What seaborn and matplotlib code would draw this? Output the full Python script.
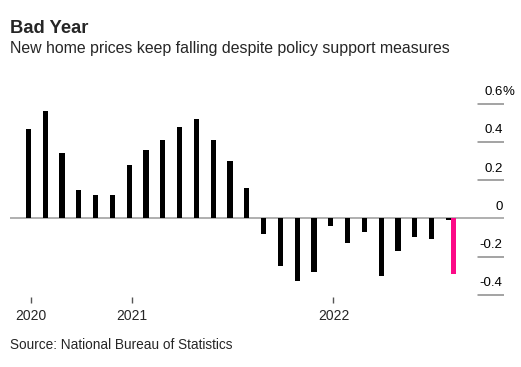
import numpy as np
import pandas as pd
import matplotlib
matplotlib.use("Agg")
import matplotlib.pyplot as plt
import seaborn as sns

# monthly change in new home prices, Jul 2020 - Aug 2022 (%)
months = pd.date_range("2020-07-01", "2022-08-01", freq="MS").strftime("%Y-%m").tolist()
past_values = [0.47, 0.56, 0.34, 0.15, 0.12, 0.12,
               0.28, 0.36, 0.41, 0.48, 0.52, 0.41, 0.30, 0.16, -0.08, -0.25, -0.33, -0.28,
               -0.04, -0.13, -0.07, -0.30, -0.17, -0.10, -0.11, -0.01]
latest_values = [np.nan] * 25 + [-0.29]
year_ticks = ["2020-07", "2021-01", "2022-01"]
year_labels = ["2020", "2021", "2022"]
y_ticks = [0.6, 0.4, 0.2, 0, -0.2, -0.4]
y_labels = ["0.6", "0.4", "0.2", "0", "-0.2", "-0.4"]

df = pd.DataFrame({
    "month": months * 2,
    "value": past_values + latest_values,
    "series": ["past"] * len(months) + ["latest"] * len(months),
})

sns.set_style("white")
plt.rcParams["font.family"] = ["Liberation Sans", "DejaVu Sans"]

fig = plt.figure(figsize=(5.21, 3.67), dpi=100)
W, H = 521, 367
ax = fig.add_axes([10 / W, 1 - 297 / H, 494 / W, (297 - 95) / H])

ax.axhline(0, color="#9a9a9a", lw=1.1, zorder=0)
sns.barplot(data=df, x="month", y="value", hue="series", order=months,
            hue_order=["past", "latest"], palette={"past": "black", "latest": "#fc0a87"},
            width=0.63, dodge=True, legend=False, ax=ax, saturation=1,
            linewidth=0, edgecolor="none", zorder=2)

ax.set_xlim(-1.25, 28.15)
ax.set_ylim(-(297 - 218.3) / 191, (218.3 - 95) / 191)

for s in ax.spines.values():
    s.set_visible(False)

# x ticks only for years
pos = [months.index(m) for m in year_ticks]
ax.set_xticks(pos)
ax.set_xticklabels(year_labels, fontsize=10)
ax.tick_params(axis="x", length=4, width=1, color="#555555", pad=5, direction="out", bottom=True)
ax.set_xlabel("")
ax.set_ylabel("")
ax.set_yticks([])

# right side value labels sitting on short rules
for v, lab in zip(y_ticks, y_labels):
    if v != 0:
        ax.axhline(v, xmin=0.948, xmax=1.0, color="#8a8a8a", lw=1.1)
    ax.annotate(lab, xy=(1.0, v), xycoords=("axes fraction", "data"),
                xytext=(-1, 4), textcoords="offset points",
                ha="right", va="bottom", fontsize=9.5, color="black")
ax.annotate("%", xy=(1.0, 0.6), xycoords=("axes fraction", "data"),
            xytext=(-1, 4), textcoords="offset points",
            ha="left", va="bottom", fontsize=9.5, color="black")

fig.text(10 / W, 1 - 33 / H, "Bad Year", fontsize=13.2, fontweight="bold", ha="left", va="baseline")
fig.text(10 / W, 1 - 53 / H, "New home prices keep falling despite policy support measures",
         fontsize=11.4, ha="left", va="baseline")
fig.text(10 / W, 1 - 349 / H, "Source: National Bureau of Statistics", fontsize=9.8,
         ha="left", va="baseline")

fig.savefig("out.png", dpi=100)
